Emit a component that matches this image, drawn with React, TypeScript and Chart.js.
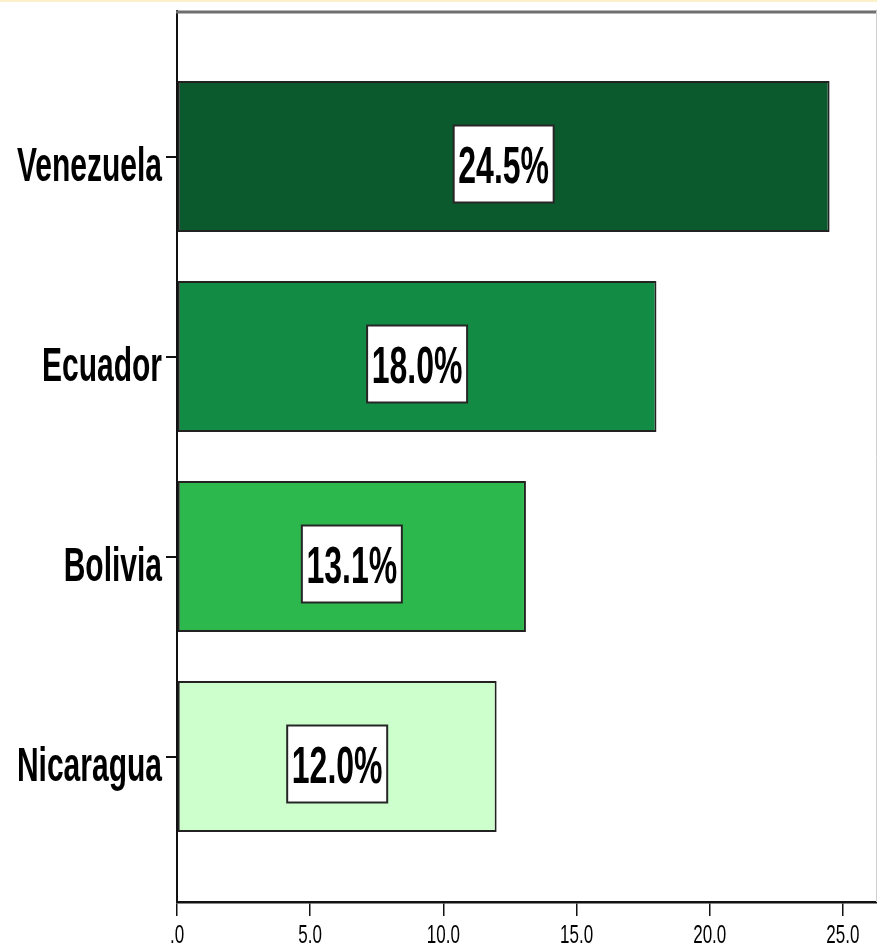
import React, { useEffect, useRef } from 'react';
import { Chart, registerables } from 'chart.js';

Chart.register(...registerables);

const categories = ['Venezuela', 'Ecuador', 'Bolivia', 'Nicaragua'];
const values = [24.5, 18.0, 13.1, 12.0];
const valueLabels = ['24.5%', '18.0%', '13.1%', '12.0%'];
const barColors = ['#0b5a2e', '#128c45', '#2db84d', '#ccffcc'];
const xTickValues = [0, 5, 10, 15, 20, 25];
const xTickLabels = ['.0', '5.0', '10.0', '15.0', '20.0', '25.0'];

const FONT = '"Liberation Sans", Arial, Helvetica, sans-serif';

function stretchedText(
  ctx: CanvasRenderingContext2D,
  text: string,
  x: number,
  baseline: number,
  size: number,
  weight: string,
  sy: number,
  align: CanvasTextAlign
) {
  ctx.save();
  ctx.translate(x, baseline);
  ctx.scale(1, sy);
  ctx.font = `${weight} ${size}px ${FONT}`;
  ctx.textAlign = align;
  ctx.textBaseline = 'alphabetic';
  ctx.fillStyle = '#000';
  ctx.fillText(text, 0, 0);
  ctx.restore();
}

const decorPlugin = {
  id: 'decor',
  afterDraw(chart: any) {
    const ctx: CanvasRenderingContext2D = chart.ctx;
    const area = chart.chartArea;
    const xs = chart.scales.x;
    const ys = chart.scales.y;

    ctx.save();
    ctx.fillStyle = '#fcf0c8';
    ctx.fillRect(0, 0, chart.width, 2);
    ctx.strokeStyle = '#6f6f6f';
    ctx.lineWidth = 3;
    ctx.beginPath();
    ctx.moveTo(area.left - 1, area.top + 1);
    ctx.lineTo(chart.width, area.top + 1);
    ctx.stroke();
    ctx.strokeStyle = '#cfcfcf';
    ctx.lineWidth = 1;
    ctx.beginPath();
    ctx.moveTo(area.right - 0.5, area.top);
    ctx.lineTo(area.right - 0.5, area.bottom);
    ctx.stroke();
    ctx.restore();

    ys.ticks.forEach((t: any) => {
      const y = ys.getPixelForValue(t.value);
      const label = categories[t.value];
      if (label) stretchedText(ctx, label, area.left - 15, y + 24.5, 30, 'bold', 1.6, 'right');
    });

    xs.ticks.forEach((t: any) => {
      const x = xs.getPixelForValue(t.value);
      const idx = xTickValues.indexOf(t.value);
      const label = idx >= 0 ? xTickLabels[idx] : '';
      stretchedText(ctx, label, x, area.bottom + 41, 17, 'normal', 1.5, 'center');
    });

    const meta = chart.getDatasetMeta(0);
    meta.data.forEach((bar: any, i: number) => {
      const cx = (bar.x + bar.base) / 2;
      const cy = bar.y + 7.5;
      const w = 100;
      const h = 77;
      ctx.save();
      ctx.fillStyle = '#ffffff';
      ctx.fillRect(cx - w / 2, cy - h / 2, w, h);
      ctx.strokeStyle = '#262626';
      ctx.lineWidth = 2;
      ctx.strokeRect(cx - w / 2, cy - h / 2, w, h);
      ctx.restore();
      stretchedText(ctx, valueLabels[i], cx, cy + 18.5, 32, 'bold', 1.6, 'center');
    });
  },
};

export default function App() {
  const canvasRef = useRef<HTMLCanvasElement | null>(null);

  useEffect(() => {
    if (!canvasRef.current) return;
    const chart = new Chart(canvasRef.current, {
      type: 'bar',
      data: {
        datasets: [
          {
            data: values.map((v, i) => ({ x: v, y: i })) as any,
            backgroundColor: barColors,
            borderColor: '#222222',
            borderWidth: 2,
            borderSkipped: false,
            categoryPercentage: 1,
            barPercentage: 0.755,
          },
        ],
      },
      options: {
        indexAxis: 'y',
        animation: false,
        responsive: false,
        maintainAspectRatio: false,
        devicePixelRatio: 1,
        layout: { padding: { top: 11, right: 0, left: 0, bottom: 0 } },
        plugins: {
          legend: { display: false },
          tooltip: { enabled: false },
        },
        scales: {
          x: {
            type: 'linear',
            min: 0,
            max: 26.28,
            afterBuildTicks: (scale: any) => {
              scale.ticks = xTickValues.map((v) => ({ value: v }));
            },
            afterFit: (scale: any) => {
              scale.height = 46;
            },
            ticks: { display: false },
            grid: {
              drawOnChartArea: false,
              drawTicks: true,
              tickLength: 14,
              color: '#111',
              lineWidth: 1.5,
            },
            border: { display: true, color: '#111', width: 2.5 },
          },
          y: {
            type: 'linear',
            reverse: true,
            min: -0.7275,
            max: 3.7275,
            offset: false,
            afterBuildTicks: (scale: any) => {
              scale.ticks = categories.map((_, i) => ({ value: i }));
            },
            afterFit: (scale: any) => {
              scale.width = 177;
            },
            ticks: { display: false },
            grid: {
              offset: false,
              drawOnChartArea: false,
              drawTicks: true,
              tickLength: 11,
              color: '#111',
              lineWidth: 2,
            },
            border: { display: true, color: '#111', width: 2 },
          },
        },
      },
      plugins: [decorPlugin],
    });
    return () => chart.destroy();
  }, []);

  return (
    <div
      style={{
        position: 'fixed',
        left: 0,
        top: 0,
        width: 877,
        height: 948,
        background: '#ffffff',
      }}
    >
      <canvas ref={canvasRef} width={877} height={948} />
    </div>
  );
}
